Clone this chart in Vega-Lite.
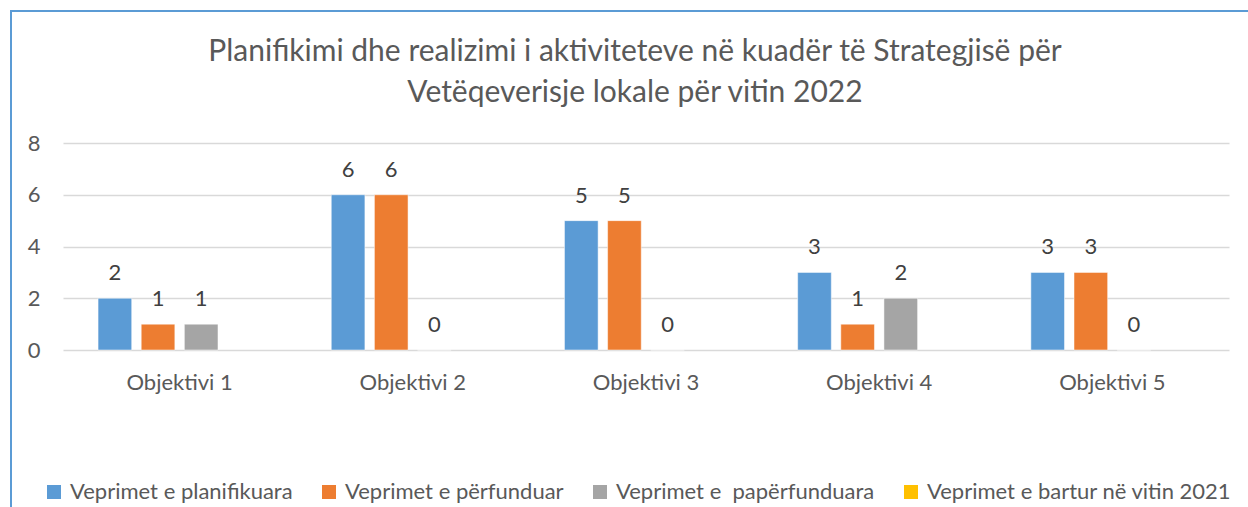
{
  "$schema": "https://vega.github.io/schema/vega-lite/v6.json",
  "width": 1248,
  "height": 507,
  "autosize": "none",
  "padding": {"left": 11, "top": 11, "right": 0, "bottom": 0},
  "background": "white",
  "title": {
    "text": ["Planifikimi dhe realizimi i aktiviteteve në kuadër të Strategjisë për", "Vetëqeverisje lokale për vitin 2022"],
    "anchor": "middle",
    "frame": "group",
    "offset": -97,
    "font": "Lato",
    "fontSize": 30,
    "fontWeight": "normal",
    "color": "#595959",
    "lineHeight": 41
  },
  "data": {
    "values": [
      {"obj": "Objektivi 1", "series": "Veprimet e planifikuara", "value": 2},
      {"obj": "Objektivi 1", "series": "Veprimet e përfunduar", "value": 1},
      {"obj": "Objektivi 1", "series": "Veprimet e \u00a0papërfunduara", "value": 1},
      {"obj": "Objektivi 1", "series": "Veprimet e bartur në vitin 2021", "value": null},
      {"obj": "Objektivi 2", "series": "Veprimet e planifikuara", "value": 6},
      {"obj": "Objektivi 2", "series": "Veprimet e përfunduar", "value": 6},
      {"obj": "Objektivi 2", "series": "Veprimet e \u00a0papërfunduara", "value": 0},
      {"obj": "Objektivi 2", "series": "Veprimet e bartur në vitin 2021", "value": null},
      {"obj": "Objektivi 3", "series": "Veprimet e planifikuara", "value": 5},
      {"obj": "Objektivi 3", "series": "Veprimet e përfunduar", "value": 5},
      {"obj": "Objektivi 3", "series": "Veprimet e \u00a0papërfunduara", "value": 0},
      {"obj": "Objektivi 3", "series": "Veprimet e bartur në vitin 2021", "value": null},
      {"obj": "Objektivi 4", "series": "Veprimet e planifikuara", "value": 3},
      {"obj": "Objektivi 4", "series": "Veprimet e përfunduar", "value": 1},
      {"obj": "Objektivi 4", "series": "Veprimet e \u00a0papërfunduara", "value": 2},
      {"obj": "Objektivi 4", "series": "Veprimet e bartur në vitin 2021", "value": null},
      {"obj": "Objektivi 5", "series": "Veprimet e planifikuara", "value": 3},
      {"obj": "Objektivi 5", "series": "Veprimet e përfunduar", "value": 3},
      {"obj": "Objektivi 5", "series": "Veprimet e \u00a0papërfunduara", "value": 0},
      {"obj": "Objektivi 5", "series": "Veprimet e bartur në vitin 2021", "value": null}
    ]
  },
  "encoding": {
    "x": {
      "field": "obj", "type": "nominal", "sort": null,
      "scale": {"type": "band", "range": [52, 1218], "paddingInner": 0.26, "paddingOuter": 0.13},
      "axis": {"title": null, "orient": "bottom", "offset": -146, "labelPadding": 0, "labelAngle": 0, "labelBaseline": "top", "ticks": false, "domain": false, "grid": false, "labelFont": "Lato", "labelFontSize": 22, "labelColor": "#595959"}
    },
    "xOffset": {
      "field": "series", "type": "nominal",
      "scale": {"domain": ["Veprimet e planifikuara", "Veprimet e përfunduar", "Veprimet e \u00a0papërfunduara", "Veprimet e bartur në vitin 2021"], "paddingInner": 0.22, "paddingOuter": 0.11}
    },
    "y": {
      "field": "value", "type": "quantitative",
      "scale": {"domain": [0, 8], "range": [339, 132], "nice": false},
      "axis": {"title": null, "values": [0, 2, 4, 6, 8], "offset": -29, "labelPadding": 0, "ticks": false, "domain": false, "grid": true, "gridColor": "#d9d9d9", "gridWidth": 1.5, "labelFont": "Lato", "labelFontSize": 22, "labelColor": "#595959"}
    }
  },
  "layer": [
    {
      "mark": {"type": "bar", "stroke": "white", "strokeWidth": 0.5},
      "encoding": {
        "color": {
          "field": "series", "type": "nominal",
          "scale": {"domain": ["Veprimet e planifikuara", "Veprimet e përfunduar", "Veprimet e \u00a0papërfunduara", "Veprimet e bartur në vitin 2021"], "range": ["#5b9bd5", "#ed7d31", "#a5a5a5", "#ffc000"]},
          "legend": {"title": null, "orient": "none", "legendX": 32, "legendY": 470, "direction": "horizontal", "columns": 4, "symbolType": "square", "symbolSize": 196, "symbolStrokeWidth": 0, "labelFont": "Lato", "labelFontSize": 22, "labelColor": "#595959", "labelOffset": 5, "columnPadding": 25, "labelLimit": 400}
        }
      }
    },
    {
      "mark": {"type": "text", "dy": -25, "baseline": "middle", "font": "Lato", "fontSize": 22, "color": "#404040"},
      "encoding": {"text": {"field": "value", "type": "quantitative"}}
    }
  ],
  "config": {
    "view": {"stroke": "#5b9bd5", "strokeWidth": 2}
  }
}
